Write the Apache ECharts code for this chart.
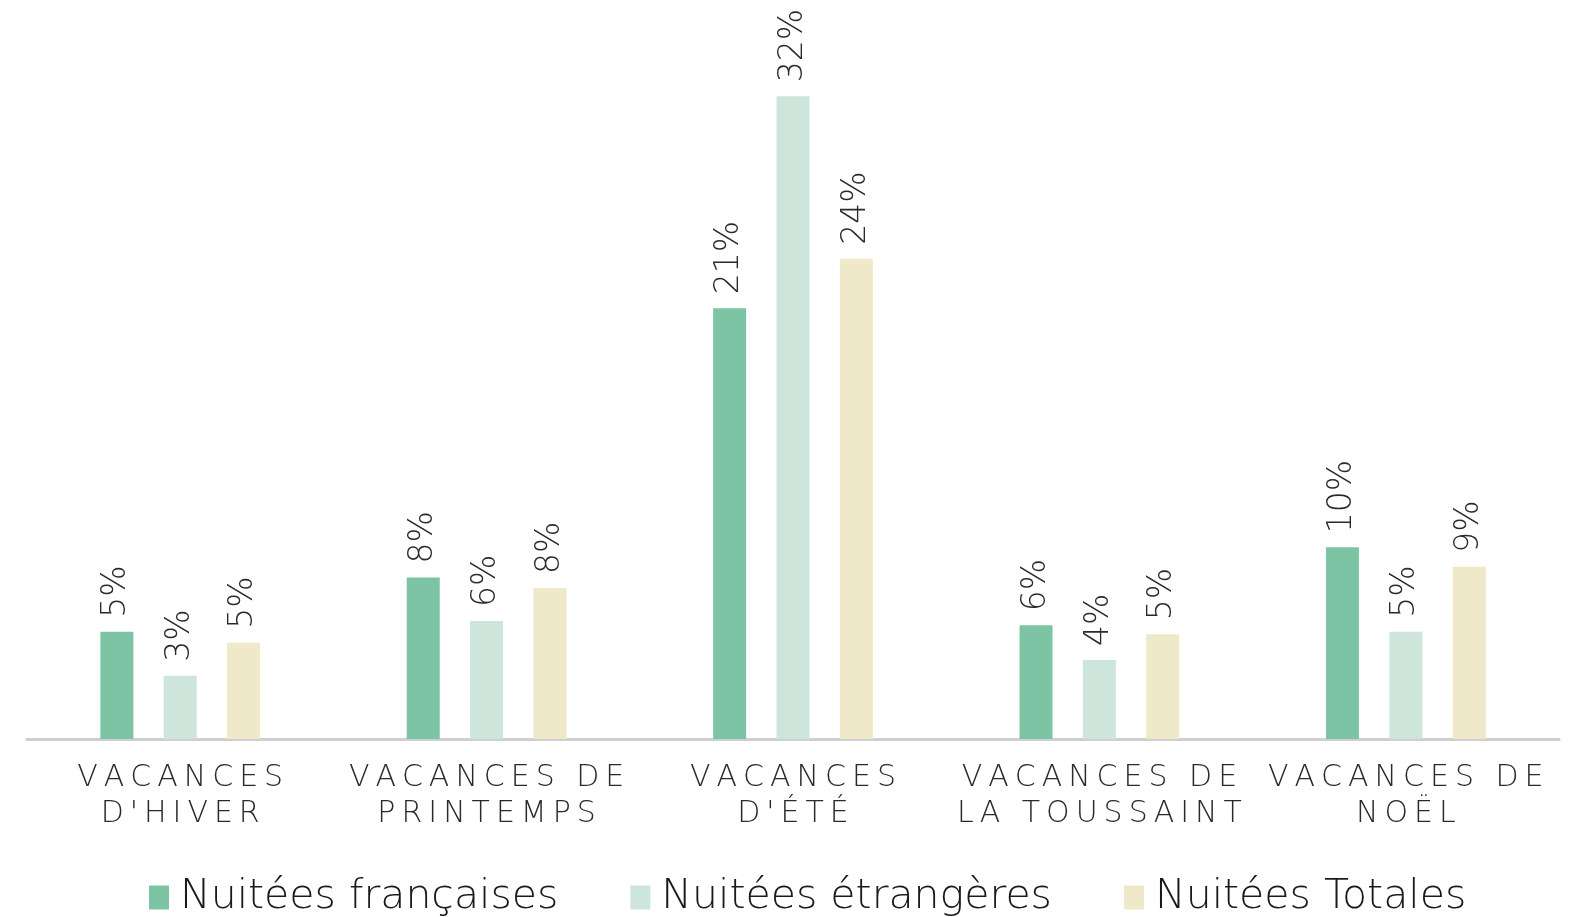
<!DOCTYPE html>
<html>
<head>
<meta charset="utf-8">
<script src="https://cdn.jsdelivr.net/npm/echarts@6/dist/echarts.min.js"></script>
<style>
  html, body { margin: 0; padding: 0; background: #fff; }
  #chart { width: 1583px; height: 917px; }
</style>
</head>
<body>
<div id="chart"></div>
<script>
// catégories (périodes de vacances)
var periodes = ['VACANCES\nD\'HIVER', 'VACANCES DE\nPRINTEMPS', 'VACANCES\nD\'ÉTÉ', 'VACANCES DE\nLA TOUSSAINT', 'VACANCES DE\nNOËL'];
// parts des nuitées (%)
var nuiteesFrancaises = [5.34, 8.04, 21.44, 5.66, 9.55];
var nuiteesEtrangeres = [3.15, 5.87, 32.0, 3.93, 5.34];
var nuiteesTotales = [4.79, 7.52, 23.91, 5.22, 8.57];

var police = '"DejaVu Sans", "Noto Sans", sans-serif';

// étiquette verticale au-dessus de la barre
var etiquette = {
    show: true,
    position: 'top',
    rotate: 90,
    align: 'left',
    verticalAlign: 'middle',
    distance: 14,
    fontFamily: police,
    fontWeight: 300,
    fontSize: 33,
    color: '#2a2a2a',
    formatter: function (p) { return Math.round(p.value) + '%'; }
};

function serie(nom, couleur, valeurs) {
    return {
        name: nom,
        type: 'bar',
        barWidth: 33,
        barGap: '92%',
        itemStyle: { color: couleur },
        label: etiquette,
        data: valeurs
    };
}

var chart = echarts.init(document.getElementById('chart'));
chart.setOption({
    animation: false,
    grid: { left: 27, right: 24, top: 36, bottom: 178, containLabel: false },
    legend: {
        top: 872,
        left: 144,
        itemWidth: 20,
        itemHeight: 24,
        itemGap: 72,
        icon: 'rect',
        textStyle: { fontFamily: police, fontWeight: 300, fontSize: 41, color: '#1a1a1a', padding: [0, 0, 0, 6] },
        data: ['Nuitées françaises', 'Nuitées étrangères', 'Nuitées Totales']
    },
    xAxis: {
        type: 'category',
        data: periodes,
        axisTick: { show: false },
        axisLine: { lineStyle: { color: '#cfcfcf', width: 3 } },
        axisLabel: {
            margin: 21,
            interval: 0,
            fontFamily: police,
            fontWeight: 300,
            fontSize: 30,
            lineHeight: 36,
            color: '#2a2a2a',
            // espacement des lettres
            formatter: function (v) {
                return v.split('\n').map(function (l) { return l.split('').join('\u2009'); }).join('\n');
            }
        }
    },
    yAxis: {
        type: 'value',
        min: 0,
        max: 35,
        show: false,
        splitLine: { show: false }
    },
    series: [
        serie('Nuitées françaises', '#7dc4a5', nuiteesFrancaises),
        serie('Nuitées étrangères', '#cde5da', nuiteesEtrangeres),
        serie('Nuitées Totales', '#efe9c9', nuiteesTotales)
    ]
});
</script>
</body>
</html>
